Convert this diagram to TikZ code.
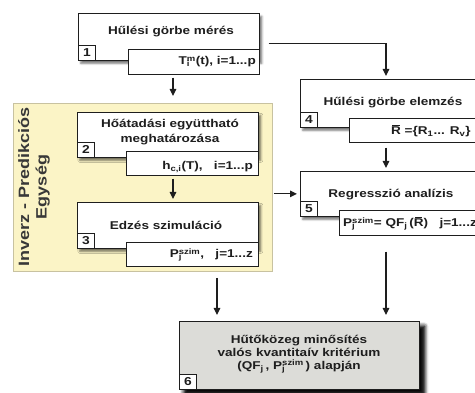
\documentclass[tikz,border=0pt]{standalone}
\usepackage{fontspec}
\setmainfont{Liberation Sans}[FakeStretch=1.2]
\usetikzlibrary{arrows.meta}
\usetikzlibrary{shadows.blur}

\definecolor{ink}{HTML}{1E1E1E}
\definecolor{panelfill}{HTML}{FBF4C6}
\definecolor{paneldraw}{HTML}{C8C2A0}
\definecolor{evalfill}{HTML}{DCDCD8}

\newcommand\supsub[2]{\makebox[0pt][l]{\textsubscript{#2}}\textsuperscript{#1}}
\newcommand\Rbar{\makebox[0pt][l]{\kern1.2pt\rule[9.4pt]{7.4pt}{1pt}}R}

\tikzset{
  mainbox/.style={draw=ink, fill=white, line width=0.7pt, anchor=north west, inner sep=0pt,
    blur shadow={shadow xshift=2.5pt, shadow yshift=-3pt, shadow blur radius=2pt, shadow opacity=55}},
  subbox/.style={draw=ink, fill=white, line width=0.7pt, anchor=north west, inner sep=0pt},
  numbox/.style={draw=ink, fill=white, line width=0.7pt, anchor=south west, inner sep=0pt,
    minimum width=17pt, minimum height=15pt, text=ink, font=\bfseries\fontsize{11.5}{12}\selectfont},
  ttl/.style={inner sep=0pt, text=ink, align=center, font=\bfseries\fontsize{11.3}{15}\selectfont},
  val/.style={inner sep=0pt, text=ink, font=\bfseries\fontsize{11.3}{13}\selectfont},
  arr/.style={draw=ink, line width=1.1pt, -{Triangle[length=7pt,width=6.5pt]}}
}

\begin{document}
\begin{tikzpicture}[x=1pt,y=-1pt]
  \useasboundingbox (0,0) rectangle (475,393);
  \clip (0,0) rectangle (475,393);

  % inverse - prediction unit
  \node[draw=paneldraw, fill=panelfill, line width=0.8pt, anchor=north west, inner sep=0pt,
        minimum width=259pt, minimum height=168pt] (panel) at (13,103) {};
  \node[rotate=90, align=center, text=black!78, font=\bfseries\fontsize{15}{17.5}\selectfont]
        (unit) at (34,187) {Inverz - Predikciós\\Egység};

  % boxes
  \node[mainbox, minimum width=181pt, minimum height=47pt] (main1) at (78,13) {};
  \node[mainbox, minimum width=181pt, minimum height=45pt] (main2) at (77,112) {};
  \node[mainbox, minimum width=181pt, minimum height=46pt] (main3) at (77,202) {};
  \node[mainbox, minimum width=200pt, minimum height=48pt] (main4) at (300,79) {};
  \node[mainbox, minimum width=200pt, minimum height=45pt] (main5) at (300,171) {};
  \node[mainbox, fill=evalfill, minimum width=240pt, minimum height=68pt,
        blur shadow={shadow xshift=5pt, shadow yshift=-5pt, shadow blur radius=4pt, shadow opacity=85}]
        (main6) at (179,321) {};

  \foreach \n in {1,...,6} {
    \node[numbox] (num\n) at (main\n.south west) {\n};
  }

  \node[subbox, minimum width=131pt, minimum height=25pt] (sub1) at (128,49) {};
  \node[subbox, minimum width=132pt, minimum height=24pt] (sub2) at (126,151) {};
  \node[subbox, minimum width=132pt, minimum height=24pt] (sub3) at (126,242) {};
  \node[subbox, minimum width=151pt, minimum height=24pt] (sub4) at (349,118) {};
  \node[subbox, minimum width=161pt, minimum height=25pt] (sub5) at (339,210) {};

  % titles
  \node[ttl, anchor=base] (ttl1) at (171,35) {Hűlési görbe mérés};
  \node[ttl] (ttl2) at (170,132) {Hőátadási együttható\\meghatározása};
  \node[ttl, anchor=base] (ttl3) at (166,230) {Edzés szimuláció};
  \node[ttl, anchor=base] (ttl4) at (393,106) {Hűlési görbe elemzés};
  \node[ttl, anchor=base] (ttl5) at (391,198) {Regresszió analízis};
  \node[ttl, font=\bfseries\fontsize{11.3}{13.3}\selectfont] (ttl6) at (299,354)
        {Hűtőközeg minősítés\\valós kvantitaív kritérium\\(QF\textsubscript{j}\,, P\supsub{szim}{j}\,) alapján};

  % values
  \node[val, anchor=base east] (val1) at (256,65) {T\supsub{m}{i}(t), i=1...p};
  \node[val, anchor=base east] (val2) at (253,170) {h\textsubscript{c,i}(T),\quad i=1...p};
  \node[val, anchor=base east] (val3) at (253,258) {P\supsub{szim}{j},\quad j=1...z};
  \node[val, anchor=base west] (val4) at (391,135) {\Rbar\ =\{R\textsubscript{1}... R\textsubscript{v}\}};
  \node[val, anchor=base west] (val5) at (343,227) {P\supsub{szim}{j}= QF\textsubscript{j}\,(\Rbar)\quad j=1...z};

  % connectors
  \coordinate (lcol) at (173,0);
  \coordinate (mcol) at (217,0);
  \coordinate (rcol) at (386,0);
  \draw[arr, shorten <=3pt, shorten >=7pt] (sub1.south -| lcol) -- (panel.north -| lcol);
  \draw[arr, shorten <=3pt, shorten >=3pt] (sub2.south -| lcol) -- (main3.north -| lcol);
  \draw[arr, shorten <=6pt, shorten >=6pt] (panel.south -| mcol) -- (main6.north -| mcol);
  \draw[arr, shorten <=5pt, shorten >=3pt] (sub4.south -| rcol) -- (main5.north -| rcol);
  \draw[arr, shorten <=16pt, shorten >=6pt] (sub5.south -| rcol) -- (main6.north -| rcol);
  \draw[arr, shorten <=1pt, shorten >=3pt] (panel.east |- main5.west) -- (main5.west);
  \draw[arr, shorten >=3pt] ([shift={(9,6.5)}]main1.east) -| (main4.north -| rcol);
\end{tikzpicture}
\end{document}
